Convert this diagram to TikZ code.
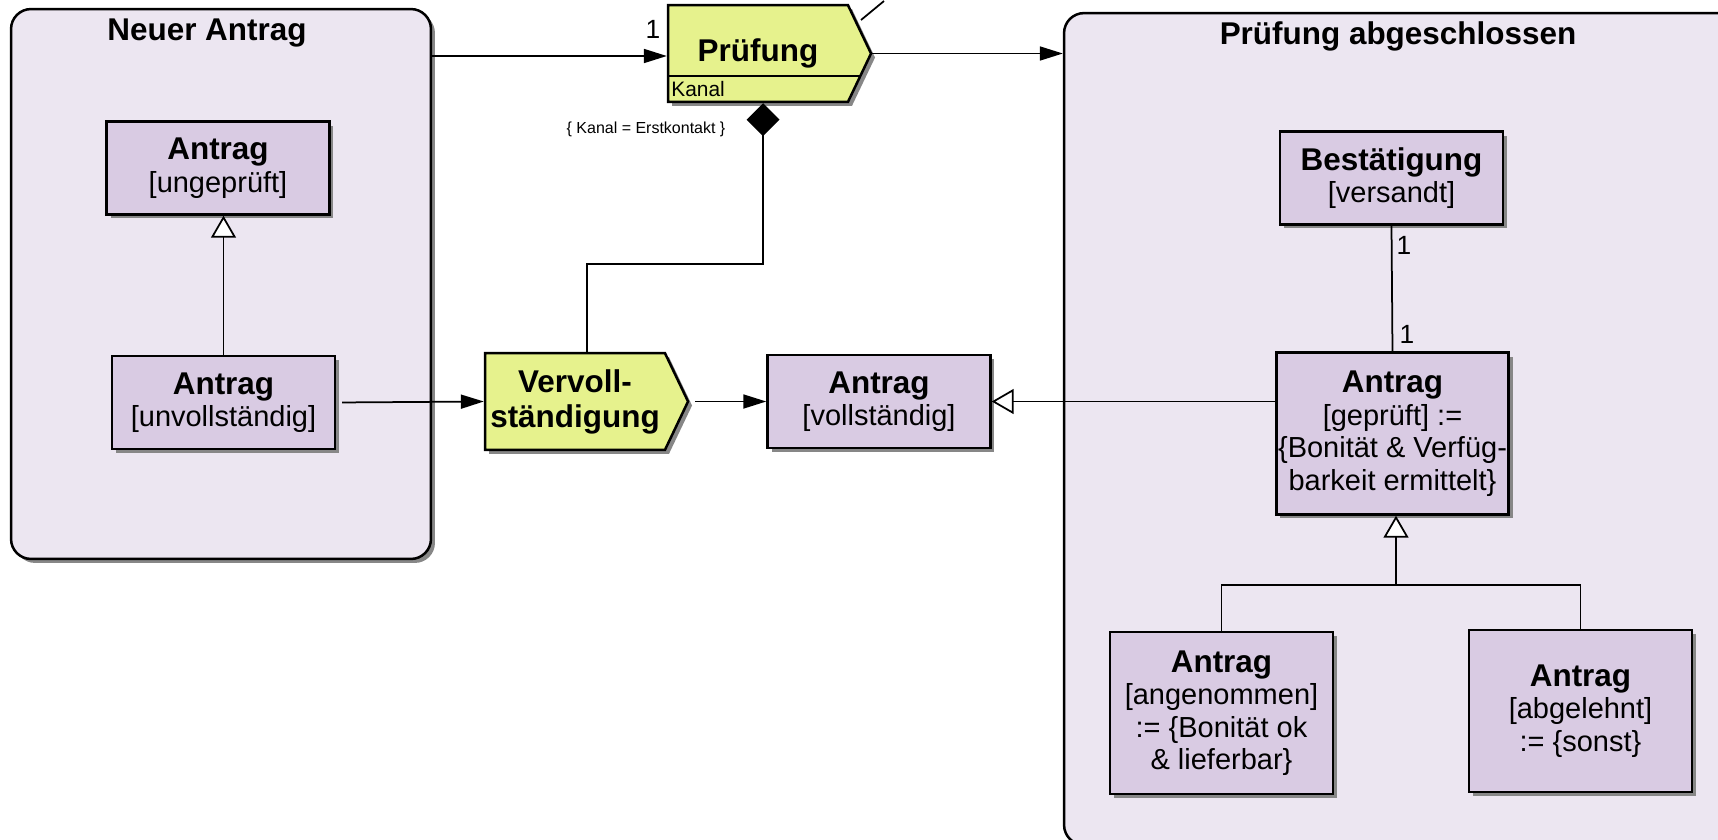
\documentclass[tikz,border=0pt]{standalone}
\usepackage{fontspec}
\setmainfont{Liberation Sans}
\usetikzlibrary{arrows.meta,shapes.symbols,shadows}
\definecolor{stfill}{HTML}{ECE6F1}
\definecolor{obfill}{HTML}{D9CBE3}
\definecolor{fnfill}{HTML}{E6F28D}
\newcommand{\objname}[1]{{\fontsize{17.9}{18.5}\selectfont\bfseries #1}}
\tikzset{
    box shadow/.style={drop shadow={shadow xshift=0.08cm,
                       shadow yshift=-0.08cm, fill=black!47, opacity=1}},
    % States
    st box/.style={draw, line width=0.05cm, fill=stfill,
                   rounded corners=0.4cm, box shadow},
    st title/.style={font=\fontsize{17.9}{20}\selectfont\bfseries},
    % Objects and functions
    ob box/.style={draw, line width=0.05cm, fill=obfill,
                   minimum width=4.46cm, minimum height=1.86cm,
                   align=center, inner sep=1pt,
                   font=\fontsize{16.5}{18.5}\selectfont, box shadow},
    ob tall/.style={ob box, minimum height=3.24cm},
    fn box/.style={signal, signal to=east, signal from=nowhere,
                   signal pointer angle=129, draw, line width=0.05cm,
                   fill=fnfill, minimum width=4.06cm, minimum height=1.94cm,
                   align=center, inner sep=1pt,
                   font=\fontsize{17.9}{20}\selectfont\bfseries, box shadow},
    fn attr/.style={anchor=west, inner sep=0pt,
                    font=\fontsize{11.9}{13}\selectfont},
    fn sep/.style={line width=0.04cm},
    % Connectors
    line/.style={line width=0.035cm},
    flow/.style={line, -{Triangle[length=0.46cm, width=0.28cm]}},
    gen/.style={line, -{Triangle[fill=white, length=0.44cm, width=0.5cm]}},
    comp/.style={line, -{Diamond[length=0.66cm, width=0.66cm]}},
    mult/.style={inner sep=0pt, font=\fontsize{15}{16}\selectfont},
    constr/.style={inner sep=0pt, font=\fontsize{9.1}{10}\selectfont},
}
\begin{document}
\begin{tikzpicture}[x=0.02cm, y=-0.02cm]
    \useasboundingbox (0,0) rectangle (1718,839);
    \clip (0,0) rectangle (1718,839);
    % States
    \node[st box, minimum width=8.4cm, minimum height=11cm] (neu) at (221,284) {};
    \node[st title] (neu t) at (207,33) {Neuer Antrag};
    \node[st box, minimum width=13.92cm, minimum height=16.64cm] (fertig) at (1412,429) {};
    \node[st title] (fertig t) at (1398,36) {Prüfung abgeschlossen};
    % Objects
    \node[ob box] (ung) at (218,168) {\objname{Antrag}\\{}[ungeprüft]};
    \node[ob box] (unv) at (223.5,402.5) {\objname{Antrag}\\{}[unvollständig]};
    \node[ob box] (voll) at (879,401.5) {\objname{Antrag}\\{}[vollständig]};
    \node[ob box] (best) at (1391.5,178) {\objname{Bestätigung}\\{}[versandt]};
    \node[ob tall] (gep) at (1392.5,433.5)
        {\objname{Antrag}\\{}[geprüft] :=\\\{Bonität \& Verfüg-\\barkeit ermittelt\}};
    \node[ob tall] (ang) at (1221.5,713)
        {\objname{Antrag}\\{}[angenommen]\\:= \{Bonität ok\\\& lieferbar\}};
    \node[ob tall] (abg) at (1580.5,711)
        {\objname{Antrag}\\{}[abgelehnt]\\:= \{sonst\}};
    % Functions
    \node[fn box] (verv) at (575,401.5) {Vervoll-\\ständigung};
    \node[fn box] (pruef) at (758,53.5) {Prüfung};
    \draw[fn sep] (668,76) -- (861,76);
    \node[fn attr] (kanal) at (671,89) {Kanal};
    % Connectors
    \draw[flow] ([yshift=-0.05cm]neu.east |- pruef.west) -- ([yshift=-0.05cm]pruef.west);
    \draw[flow] (pruef.east) -- (pruef.east -| fertig.west);
    \draw[flow, shorten <=0.12cm] (unv.east) -- (verv.west);
    \draw[flow, shorten <=0.12cm] (verv.east) -- (voll.west);
    \draw[gen] (unv.north) -- (unv.north |- ung.south);
    \draw[gen] (gep.west |- voll.east) -- (voll.east);
    \draw[line] (best.south) -- (gep.north);
    \coordinate (fork) at (1396,585);
    \draw[line] (ang.north) |- (fork) -| (abg.north);
    \draw[gen] (fork) -- (fork |- gep.south);
    \coordinate (kink) at (763,264);
    \draw[comp] (verv.north) ++(12,0) |- (kink) -- (kink |- pruef.south);
    \coordinate (stub a) at (861,20);
    \coordinate (stub b) at (884,1);
    \draw[line] (stub a) -- (stub b);
    % Labels
    \node[mult] (m pruef) at (653,29) {1};
    \node[mult] (m best) at (1404,245) {1};
    \node[mult] (m gep) at (1407,334) {1};
    \node[constr] (constr) at (646,129) {\{ Kanal = Erstkontakt \}};
\end{tikzpicture}
\end{document}
